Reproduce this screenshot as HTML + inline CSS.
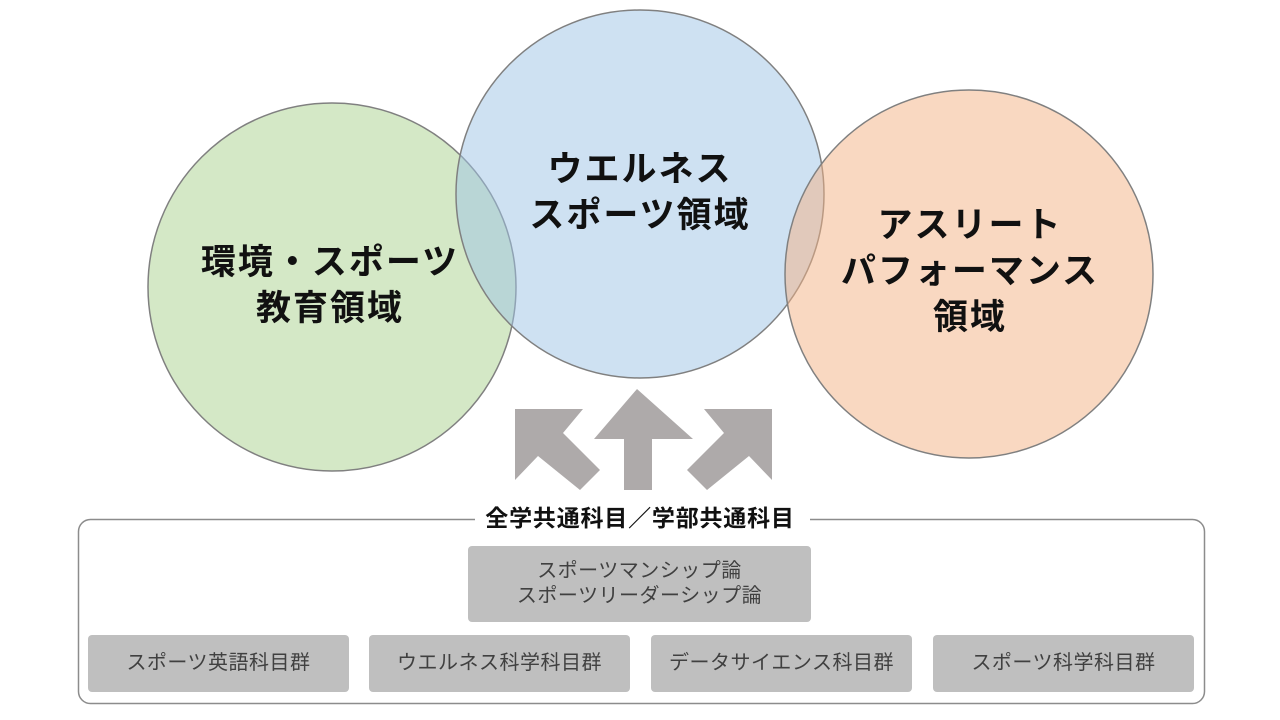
<!DOCTYPE html>
<html><head><meta charset="utf-8"><style>
body{margin:0;width:1280px;height:720px;background:#fff;overflow:hidden;position:relative;font-family:"Liberation Sans","Noto Sans CJK JP",sans-serif}
.t{position:absolute;text-align:center;font-weight:bold;color:#111;font-size:35px;line-height:46px;letter-spacing:2px}
.b{position:absolute;background:#bfbfbf;border-radius:4px;color:#404040;font-size:20px;letter-spacing:0.5px;display:flex;align-items:center;justify-content:center;text-align:center;line-height:25px}
</style></head><body>
<svg width="1280" height="720" style="position:absolute;left:0;top:0">
<circle cx="332" cy="287" r="184" fill="rgba(169,209,142,0.5)" stroke="#808080" stroke-width="1.5"/>
<circle cx="640" cy="194" r="184" fill="rgba(157,195,230,0.5)" stroke="#808080" stroke-width="1.5"/>
<circle cx="969" cy="274" r="184" fill="rgba(244,177,131,0.5)" stroke="#808080" stroke-width="1.5"/>
<rect x="78.5" y="519.5" width="1126" height="184" rx="12" fill="none" stroke="#8c8c8c" stroke-width="1.5"/>
<rect x="475" y="505" width="335" height="26" fill="#fff"/>
<g fill="#aeaaaa">
<polygon points="637,389 693,439 652,439 652,490 624,490 624,439 594,439"/>
<polygon points="515,409 583,409 563,433 600,470 580,490 538,456 515,480"/>
<polygon points="772,409 704,409 724,433 687,470 707,490 749,456 772,480"/>
</g>
</svg>
<div class="t" style="left:180px;top:240px;width:300px">環境・スポーツ<br>教育領域</div>
<div class="t" style="left:490px;top:147px;width:300px">ウエルネス<br>スポーツ領域</div>
<div class="t" style="left:820px;top:203px;width:300px">アスリート<br>パフォーマンス<br>領域</div>
<div style="position:absolute;left:440px;top:499px;width:400px;text-align:center;font-weight:bold;font-size:23px;letter-spacing:0.8px;color:#111">全学共通科目／学部共通科目</div>
<div class="b" style="left:468px;top:546px;width:343px;height:76px">スポーツマンシップ論<br>スポーツリーダーシップ論</div>
<div class="b" style="left:88px;top:635px;width:261px;height:57px">スポーツ英語科目群</div>
<div class="b" style="left:369px;top:635px;width:261px;height:57px">ウエルネス科学科目群</div>
<div class="b" style="left:651px;top:635px;width:261px;height:57px">データサイエンス科目群</div>
<div class="b" style="left:933px;top:635px;width:261px;height:57px">スポーツ科学科目群</div>
</body></html>
